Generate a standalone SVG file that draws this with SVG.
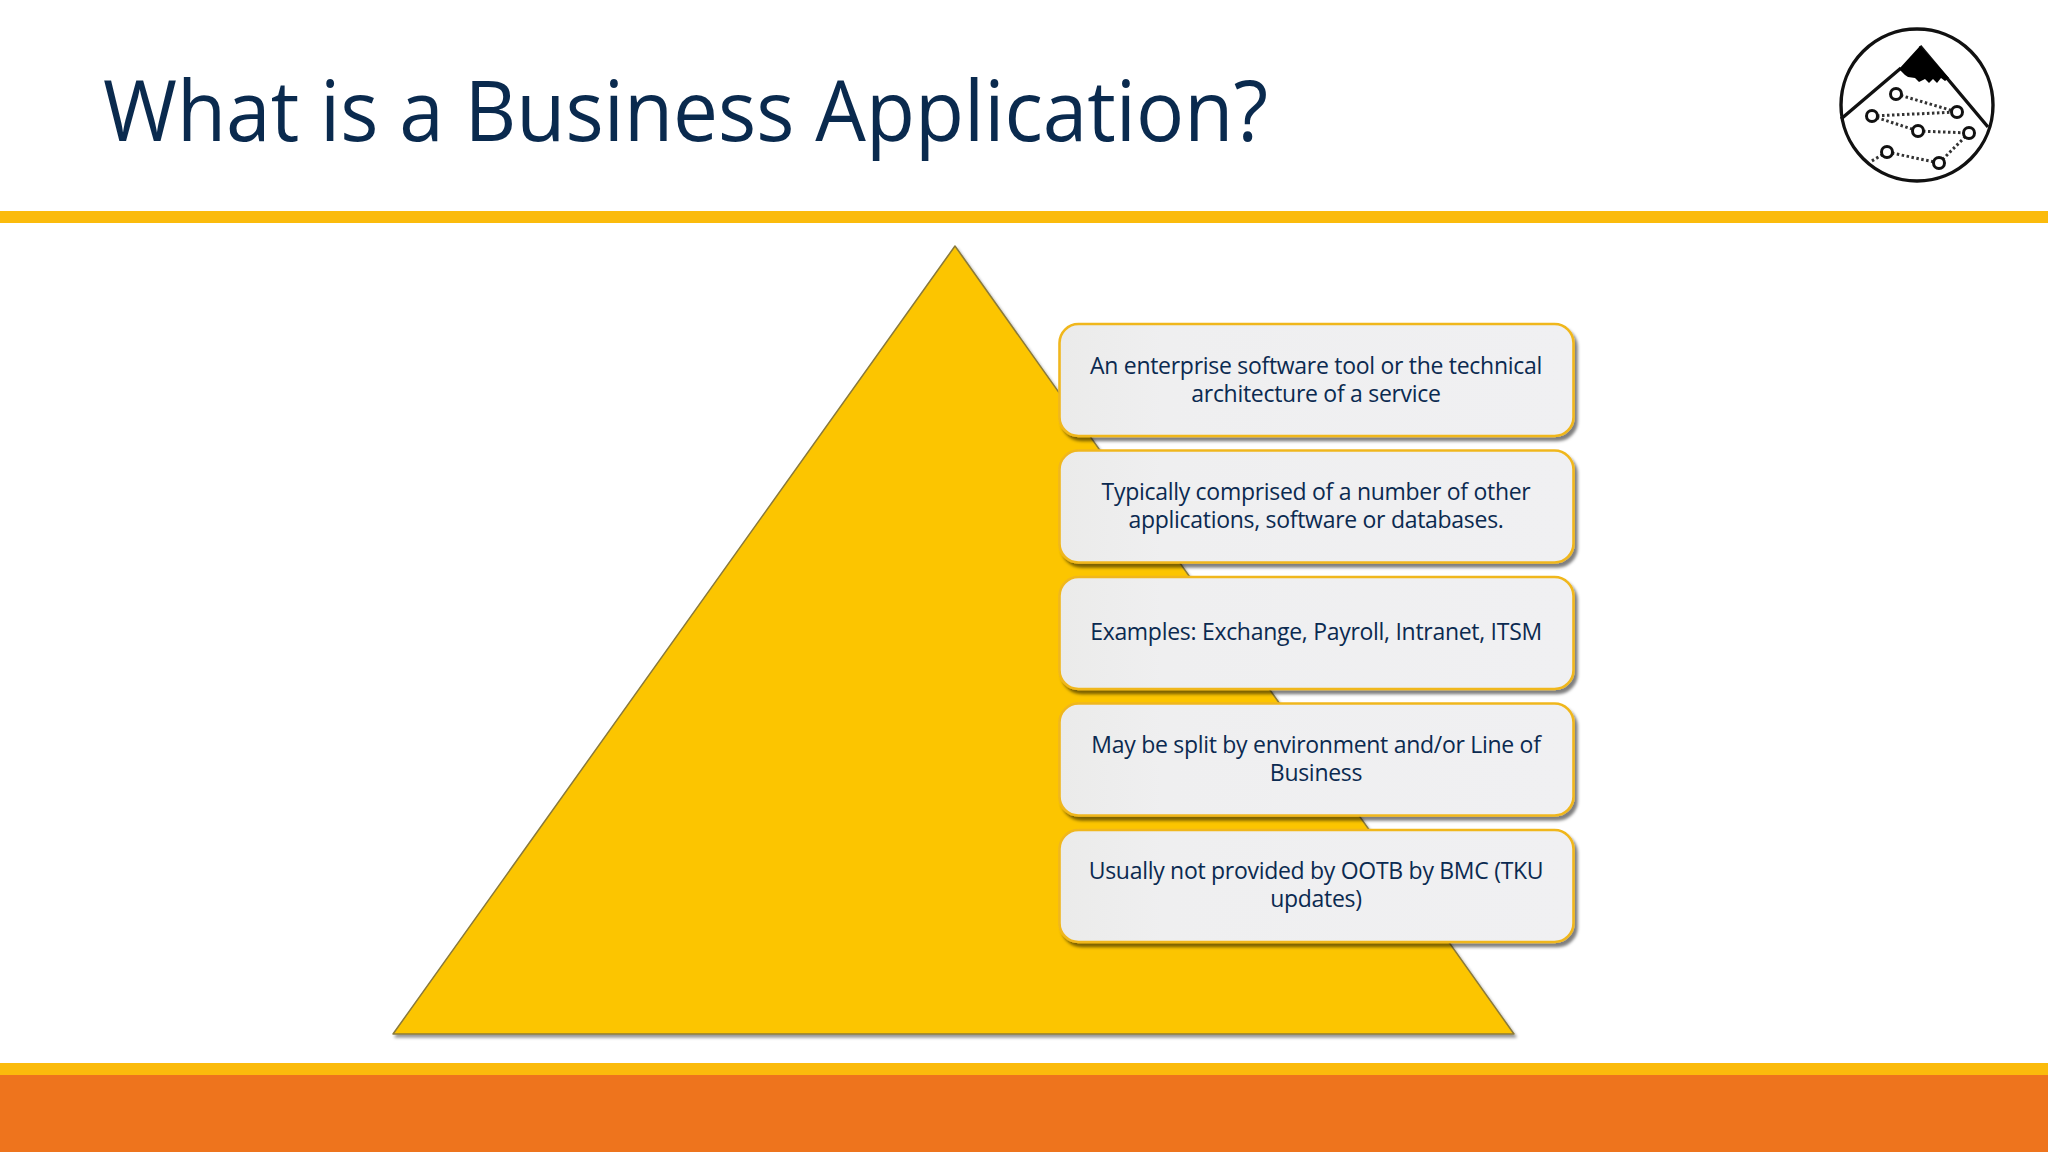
<svg xmlns="http://www.w3.org/2000/svg" width="2048" height="1152" viewBox="0 0 2048 1152">
<style>
.t{font-family:"Open Sans","Noto Sans","Liberation Sans",sans-serif;fill:#0b2a50;text-anchor:middle;font-size:23px;letter-spacing:-.29px}
.title{font-family:"Open Sans","Noto Sans","Liberation Sans",sans-serif;fill:#0a2a4e;font-size:84px}
.box{fill:url(#bf);stroke:#f0b71f;stroke-width:2.6;filter:url(#bs)}
.l{fill:none;stroke:#111;stroke-width:3.4}
.d{fill:none;stroke:#333;stroke-width:3;stroke-dasharray:2.5 2.5}
.c{fill:#fff;stroke:#111;stroke-width:3}
</style>
<defs>
<linearGradient id="bf" x1="0" y1="0" x2="1" y2="0"><stop offset="0" stop-color="#ebebea"/><stop offset=".2" stop-color="#efeff0"/><stop offset="1" stop-color="#f0f0f2"/></linearGradient>
<filter id="bs" x="-5%" y="-10%" width="112%" height="125%"><feDropShadow dx="3" dy="4" stdDeviation="1.8" flood-color="#000" flood-opacity=".5"/></filter>
<filter id="ts" x="-5%" y="-5%" width="110%" height="110%"><feDropShadow dx="2" dy="3" stdDeviation="1.8" flood-color="#000" flood-opacity=".4"/></filter>
</defs>
<rect width="2048" height="1152" fill="#fff"/>
<rect id="topbar" y="211" width="2048" height="12" fill="#fbbb0c"/>
<rect id="footer" y="1075" width="2048" height="77" fill="#ee741d"/>
<rect id="footerbar" y="1063" width="2048" height="12" fill="#fbbb0c"/>
<text id="title" class="title" x="103" y="141" textLength="1165" lengthAdjust="spacingAndGlyphs">What is a Business Application?</text>
<g id="logo">
<circle class="l" cx="1917" cy="105" r="76"/>
<path class="l" d="M1841 119L1901 68M1920 46L1988 127"/>
<path d="M1899 69L1920 46L1949 78L1945 81L1941 78L1937 83L1933 79L1929 83L1925 79L1919 82L1915 78L1908 77L1905 75Z" fill="#000"/>
<path class="d" d="M1896 94L1957 112M1872 116L1957 112M1872 116L1918 131M1918 131L1969 133M1969 133L1939 163M1887 152L1939 163M1887 152L1870 162"/>
<circle class="c" cx="1896" cy="94" r="5.5"/><circle class="c" cx="1957" cy="112" r="5.5"/><circle class="c" cx="1872" cy="116" r="5.5"/><circle class="c" cx="1918" cy="131" r="5.5"/><circle class="c" cx="1969" cy="133" r="5.5"/><circle class="c" cx="1887" cy="152" r="5.5"/><circle class="c" cx="1939" cy="163" r="5.5"/>
</g>
<g id="pyramid"><path d="M955 246L1514 1034H393Z" fill="#fcc504" stroke="#8a7a3a" stroke-width="1.5" stroke-linejoin="round" filter="url(#ts)"/></g>
<g id="item1"><rect class="box" x="1059.5" y="324" width="514" height="112" rx="19"/><text class="t" x="1316" y="374">An enterprise software tool or the technical</text><text class="t" x="1316" y="402">architecture of a service</text></g>
<g id="item2"><rect class="box" x="1059.5" y="450.5" width="514" height="112" rx="19"/><text class="t" x="1316" y="500">Typically comprised of a number of other</text><text class="t" x="1316" y="528">applications, software or databases.</text></g>
<g id="item3"><rect class="box" x="1059.5" y="577" width="514" height="112" rx="19"/><text class="t" x="1316" y="640">Examples: Exchange, Payroll, Intranet, ITSM</text></g>
<g id="item4"><rect class="box" x="1059.5" y="703.5" width="514" height="112" rx="19"/><text class="t" x="1316" y="753">May be split by environment and/or Line of</text><text class="t" x="1316" y="781">Business</text></g>
<g id="item5"><rect class="box" x="1059.5" y="830" width="514" height="112" rx="19"/><text class="t" x="1316" y="879">Usually not provided by OOTB by BMC (TKU</text><text class="t" x="1316" y="907">updates)</text></g>
</svg>
